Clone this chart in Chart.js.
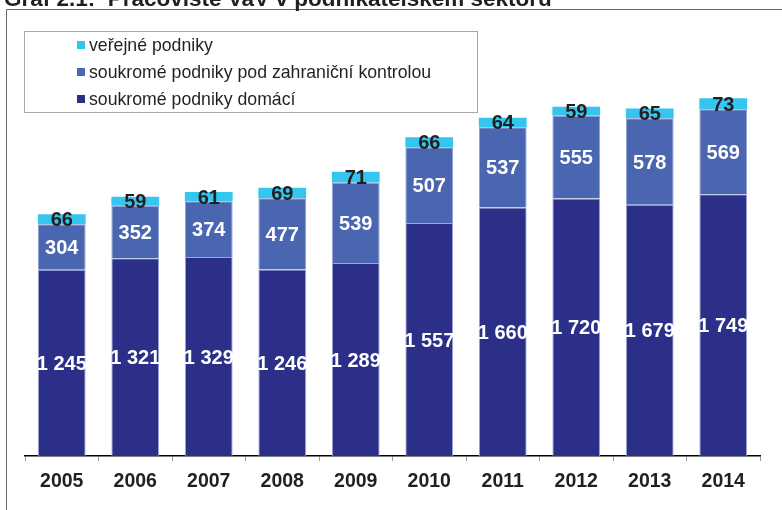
<!DOCTYPE html>
<html>
<head>
<meta charset="utf-8">
<script src="https://cdn.jsdelivr.net/npm/chart.js@4/dist/chart.umd.min.js"></script>
<style>
html,body{margin:0;padding:0;background:#fff;overflow:hidden;}
#c{display:block;}
</style>
</head>
<body>
<canvas id="c" width="782" height="510"></canvas>
<script>
const titleText = 'Graf 2.1:  Pracoviště VaV v podnikatelském sektoru';
const years = ['2005','2006','2007','2008','2009','2010','2011','2012','2013','2014'];
const domesticLabel = 'soukromé podniky domácí';
const foreignLabel = 'soukromé podniky pod zahraniční kontrolou';
const publicLabel = 'veřejné podniky';
const domestic = [1245, 1321, 1329, 1246, 1289, 1557, 1660, 1720, 1679, 1749];
const foreign = [304, 352, 374, 477, 539, 507, 537, 555, 578, 569];
const publicEnt = [66, 59, 61, 69, 71, 66, 64, 59, 65, 73];

const colDomestic = '#2b2f88';
const colForeign = '#4a66b1';
const colPublic = '#35c6f0';

function fmt(v){ return String(v).replace(/\B(?=(\d{3})+(?!\d))/g, ' '); }

const framePlugin = {
  id: 'frame',
  beforeDraw(chart){
    const ctx = chart.ctx;
    ctx.save();
    ctx.fillStyle = '#fff';
    ctx.fillRect(0,0,chart.width,chart.height);
    ctx.strokeStyle = '#6a6a6a';
    ctx.lineWidth = 1;
    ctx.beginPath();
    ctx.moveTo(6.5, chart.height);
    ctx.lineTo(6.5, 9.5);
    ctx.lineTo(chart.width, 9.5);
    ctx.stroke();
    ctx.fillStyle = '#231f20';
    ctx.font = 'bold 22.5px "Liberation Sans", Arial, sans-serif';
    ctx.textBaseline = 'alphabetic';
    ctx.textAlign = 'left';
    ctx.fillText(titleText, 4, 6);
    ctx.restore();
  }
};

const labelPlugin = {
  id: 'valueLabels',
  afterDatasetsDraw(chart){
    const ctx = chart.ctx;
    ctx.save();
    ctx.font = 'bold 20px "Liberation Sans", Arial, sans-serif';
    ctx.textAlign = 'center';
    ctx.textBaseline = 'middle';
    chart.data.datasets.forEach((ds, di) => {
      const meta = chart.getDatasetMeta(di);
      meta.data.forEach((bar, i) => {
        const y = (bar.y + bar.base) / 2;
        ctx.fillStyle = di === 2 ? '#231f20' : '#ffffff';
        ctx.fillText(fmt(ds.data[i]), bar.x, y + 1.5);
      });
    });
    ctx.restore();
  }
};

const legendPlugin = {
  id: 'boxLegend',
  afterDraw(chart){
    const ctx = chart.ctx;
    ctx.save();
    ctx.fillStyle = '#fff';
    ctx.fillRect(24, 31, 454, 82);
    ctx.strokeStyle = '#a8a8a8';
    ctx.lineWidth = 1;
    ctx.strokeRect(24.5, 31.5, 453, 81);
    const items = [...chart.data.datasets].reverse();
    ctx.font = '17.7px "Liberation Sans", Arial, sans-serif';
    ctx.textBaseline = 'middle';
    ctx.textAlign = 'left';
    items.forEach((ds, k) => {
      const cy = 45 + k * 27;
      ctx.fillStyle = ds.backgroundColor;
      ctx.fillRect(77, cy - 4, 8, 8);
      ctx.fillStyle = '#231f20';
      ctx.fillText(ds.label, 89, cy + 1);
    });
    ctx.restore();
  }
};

new Chart(document.getElementById('c'), {
  type: 'bar',
  data: {
    labels: years,
    datasets: [
      { label: domesticLabel, data: domestic, backgroundColor: colDomestic, borderColor: '#9ea6d8', borderWidth: 1 },
      { label: foreignLabel, data: foreign, backgroundColor: colForeign, borderColor: '#8ea0d6', borderWidth: 1 },
      { label: publicLabel, data: publicEnt, backgroundColor: colPublic, borderColor: '#35c6f0', borderWidth: 0 }
    ]
  },
  options: {
    responsive: false,
    animation: false,
    devicePixelRatio: 1,
    layout: { padding: { top: 37, left: 25, right: 22, bottom: 0 } },
    datasets: { bar: { categoryPercentage: 1, barPercentage: 0.65 } },
    plugins: { legend: { display: false }, tooltip: { enabled: false }, title: { display: false } },
    scales: {
      x: {
        stacked: true,
        offset: true,
        afterFit(scale){ scale.height = 54; },
        grid: { display: true, drawOnChartArea: false, drawTicks: true, tickLength: 5, color: '#9a9a9a', offset: true },
        border: { display: true, color: '#000', width: 1.5 },
        ticks: { color: '#231f20', padding: 9, font: { family: '"Liberation Sans", Arial, sans-serif', size: 19.5, weight: 'bold' } }
      },
      y: {
        stacked: true,
        display: false,
        min: 0,
        max: 2800
      }
    }
  },
  plugins: [framePlugin, labelPlugin, legendPlugin]
});
</script>
</body>
</html>
